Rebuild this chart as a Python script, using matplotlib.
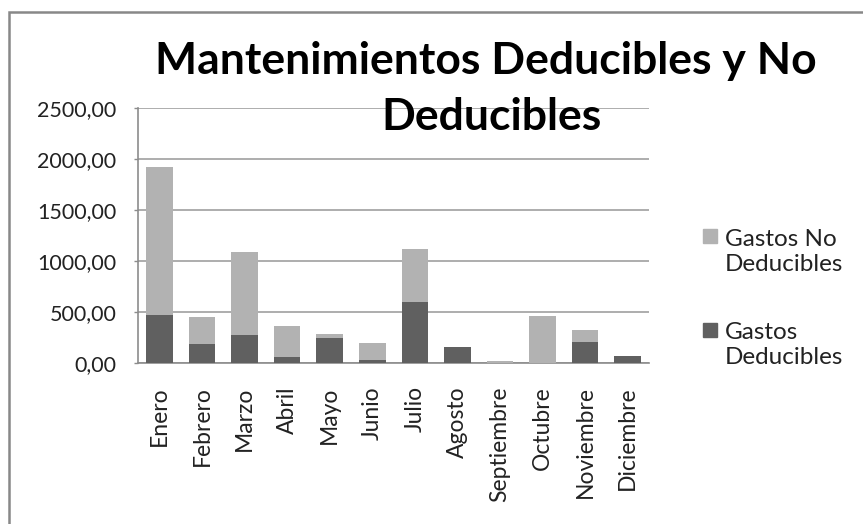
import numpy as np
import matplotlib
matplotlib.use("Agg")
import matplotlib.pyplot as plt
from matplotlib.patches import Rectangle
from matplotlib.ticker import FuncFormatter

plt.rcParams['font.family'] = ['Lato', 'DejaVu Sans']

meses = ['Enero', 'Febrero', 'Marzo', 'Abril', 'Mayo', 'Junio', 'Julio',
         'Agosto', 'Septiembre', 'Octubre', 'Noviembre', 'Diciembre']
deducibles = [472, 183, 268, 56, 245, 29, 595, 154, 0, 0, 206, 66]
no_deducibles = [1443, 262, 817, 301, 36, 164, 516, 0, 15, 458, 111, 0]
series_labels = ['Gastos No\nDeducibles', 'Gastos\nDeducibles']
yticks = [0, 500, 1000, 1500, 2000, 2500]

col_light = '#b2b2b2'
col_dark = '#606060'
axis_col = '#8c8c8c'

fig = plt.figure(figsize=(8.63, 5.24), dpi=100)
ax = fig.add_axes([0.160, 0.3078, 0.592, 0.4867])

x = np.arange(len(meses))
ax.bar(x, deducibles, width=0.625, color=col_dark, zorder=3)
ax.bar(x, no_deducibles, width=0.625, bottom=deducibles, color=col_light, zorder=3)

ax.set_xlim(-0.5, len(meses) - 0.5)
ax.set_ylim(0, 2500)
ax.set_yticks(yticks)
ax.yaxis.set_major_formatter(FuncFormatter(lambda v, p: f'{v:.2f}'.replace('.', ',')))
ax.set_xticks(x)
ax.set_xticklabels(meses, rotation=90, fontsize=16.5, color='#222222')
ax.tick_params(axis='y', labelsize=15.5, colors='#222222', length=3, width=1,
               color=axis_col, pad=12.5)
ax.tick_params(axis='x', length=0, pad=17)
ax.grid(axis='y', color='#a0a0a0', linewidth=1.2, zorder=0)
for s in ['top', 'right']:
    ax.spines[s].set_visible(False)
for s in ['left', 'bottom']:
    ax.spines[s].set_color(axis_col)
    ax.spines[s].set_linewidth(1.2)

# title (second line sits over the top gridline, like the original)
fig.text(0.563, 0.859, 'Mantenimientos Deducibles y No', ha='center', va='baseline',
         fontsize=32, fontweight='bold', color='black')
fig.text(0.569, 0.752, 'Deducibles', ha='center', va='baseline',
         fontsize=32, fontweight='bold', color='black', zorder=5)

# legend
leg_cols = [col_light, col_dark]
sq_y = [0.5506, 0.371]
txt_y = [0.519, 0.3416]
for lab, c, sy, ty in zip(series_labels, leg_cols, sq_y, txt_y):
    fig.patches.append(Rectangle((0.8146, sy - 0.0134), 0.0162, 0.0267,
                                 transform=fig.transFigure, color=c))
    fig.text(0.840, ty, lab, ha='left', va='center', fontsize=17.5,
             color='#222222', linespacing=1.2)

# chart border
fig.patches.append(Rectangle((0.0105, -0.5), 2.0, 1.477, fill=False,
                             transform=fig.transFigure, edgecolor='#888888',
                             linewidth=1.8))

fig.savefig('out.png', dpi=100, facecolor='white')
